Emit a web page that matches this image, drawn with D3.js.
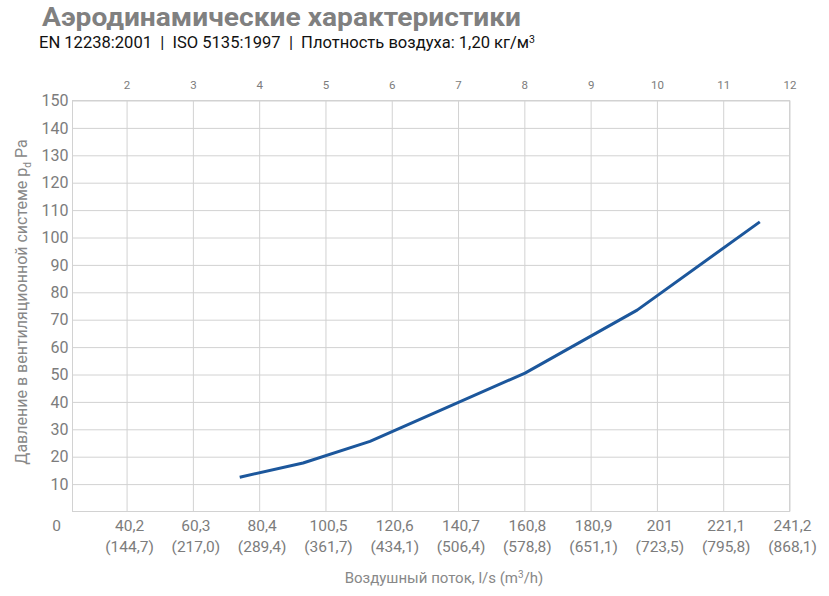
<!DOCTYPE html>
<html><head><meta charset="utf-8">
<script src="https://cdn.jsdelivr.net/npm/d3@7"></script>
<style>
body{margin:0;background:#fff;}
svg text{font-family:Roboto,"DejaVu Sans",sans-serif;}
</style>
</head><body>
<svg id="c" width="829" height="596"></svg>
<script>
// ---- data ----
const flowTicks = [40.2, 60.3, 80.4, 100.5, 120.6, 140.7, 160.8, 180.9, 201, 221.1, 241.2];
const flowTickLabels = ["40,2","60,3","80,4","100,5","120,6","140,7","160,8","180,9","201","221,1","241,2"];
const m3hTickLabels = ["(144,7)","(217,0)","(289,4)","(361,7)","(434,1)","(506,4)","(578,8)","(651,1)","(723,5)","(795,8)","(868,1)"];
const speedTickLabels = ["2","3","4","5","6","7","8","9","10","11","12"];
const pressureTicks = [10,20,30,40,50,60,70,80,90,100,110,120,130,140,150];
const flowValues = [74.5, 93.7, 114.0, 161.0, 195.0, 232.2];
const pressureValues = [12.5, 17.7, 25.6, 50.5, 73.5, 105.7];

// ---- layout ----
const W = 829, H = 596;
const m = {left:72.5, right:39.5, top:100.5, bottom:84.5};
const iw = W - m.left - m.right, ih = H - m.top - m.bottom;
const svg = d3.select("#c");
const g = svg.append("g").attr("transform", `translate(${m.left},${m.top})`);

const x = d3.scaleLinear().domain([23.8, 241.2]).range([0, iw]);
const y = d3.scaleLinear().domain([0, 150]).range([ih, 0]);

const gridColor = "#d2d2d2", tickColor = "#7c7c7c";

// horizontal grid + y labels
const ya = g.append("g").call(d3.axisLeft(y).tickValues(pressureTicks).tickSize(-iw).tickPadding(4));
ya.select(".domain").remove();
ya.selectAll(".tick line").attr("stroke", gridColor);
ya.selectAll(".tick text").attr("fill", tickColor).style("font-size", "16px");

// vertical grid
const xa = g.append("g").attr("transform", `translate(0,${ih})`)
  .call(d3.axisBottom(x).tickValues(flowTicks).tickSize(-ih).tickFormat(""));
xa.select(".domain").remove();
xa.selectAll(".tick line").attr("stroke", gridColor);

// bottom two-line labels
const bl = g.append("g").attr("fill", tickColor).style("font-size", "15.5px").attr("text-anchor", "middle");
flowTicks.forEach((v, i) => {
  const t = bl.append("text").attr("transform", `translate(${x(v)+3},${ih + 19})`);
  t.append("tspan").attr("x", 0).attr("y", 0).text(flowTickLabels[i]);
  t.append("tspan").attr("x", 0).attr("y", 21).text(m3hTickLabels[i]);
});
bl.append("text").attr("x", -16).attr("y", ih + 19).text("0");

// top axis
const ta = g.append("g").call(d3.axisTop(x).tickValues(flowTicks).tickSize(0).tickPadding(12)
  .tickFormat((d, i) => speedTickLabels[i]));
ta.select(".domain").remove();
ta.selectAll(".tick text").attr("fill", tickColor).style("font-size", "11.5px");

// border
g.append("rect").attr("x", 0).attr("y", 0).attr("width", iw).attr("height", ih)
  .attr("fill", "none").attr("stroke", gridColor);

// curve
const line = d3.line().x((d, i) => x(flowValues[i])).y((d, i) => y(pressureValues[i]));
g.append("path").datum(flowValues).attr("d", line)
  .attr("fill", "none").attr("stroke", "#1c579c").attr("stroke-width", 3)
  .attr("stroke-linejoin", "round").attr("stroke-linecap", "butt");

// titles
svg.append("text").attr("x", 42).attr("y", 26).attr("fill", "#808080")
  .style("font-size", "25px").style("font-weight", "700")
  .attr("textLength", 479).attr("lengthAdjust", "spacingAndGlyphs")
  .text("Аэродинамические характеристики");
const st = svg.append("text").attr("x", 39).attr("y", 48).attr("fill", "#111")
  .style("font-size", "16.5px").style("white-space", "pre")
  .attr("textLength", 496).attr("lengthAdjust", "spacingAndGlyphs");
st.append("tspan").text("EN 12238:2001  |  ISO 5135:1997  |  Плотность воздуха: 1,20 кг/м");
st.append("tspan").attr("dy", -5).style("font-size", "10.5px").text("3");

// x title
const xt = svg.append("text").attr("x", 444).attr("y", 583).attr("text-anchor", "middle")
  .attr("fill", "#888").style("font-size", "15px");
xt.append("tspan").text("Воздушный поток, l/s (m");
xt.append("tspan").attr("dy", -5).style("font-size", "10px").text("3");
xt.append("tspan").attr("dy", 5).text("/h)");

// y title
const yt = svg.append("text").attr("transform", `translate(27,${m.top + ih/2 - 4}) rotate(-90)`)
  .attr("text-anchor", "middle").attr("fill", "#888").style("font-size", "16px");
yt.append("tspan").text("Давление в вентиляционной системе p");
yt.append("tspan").attr("dy", 4).style("font-size", "10px").text("d");
yt.append("tspan").attr("dy", -4).text(" Pa");
</script>
</body></html>
